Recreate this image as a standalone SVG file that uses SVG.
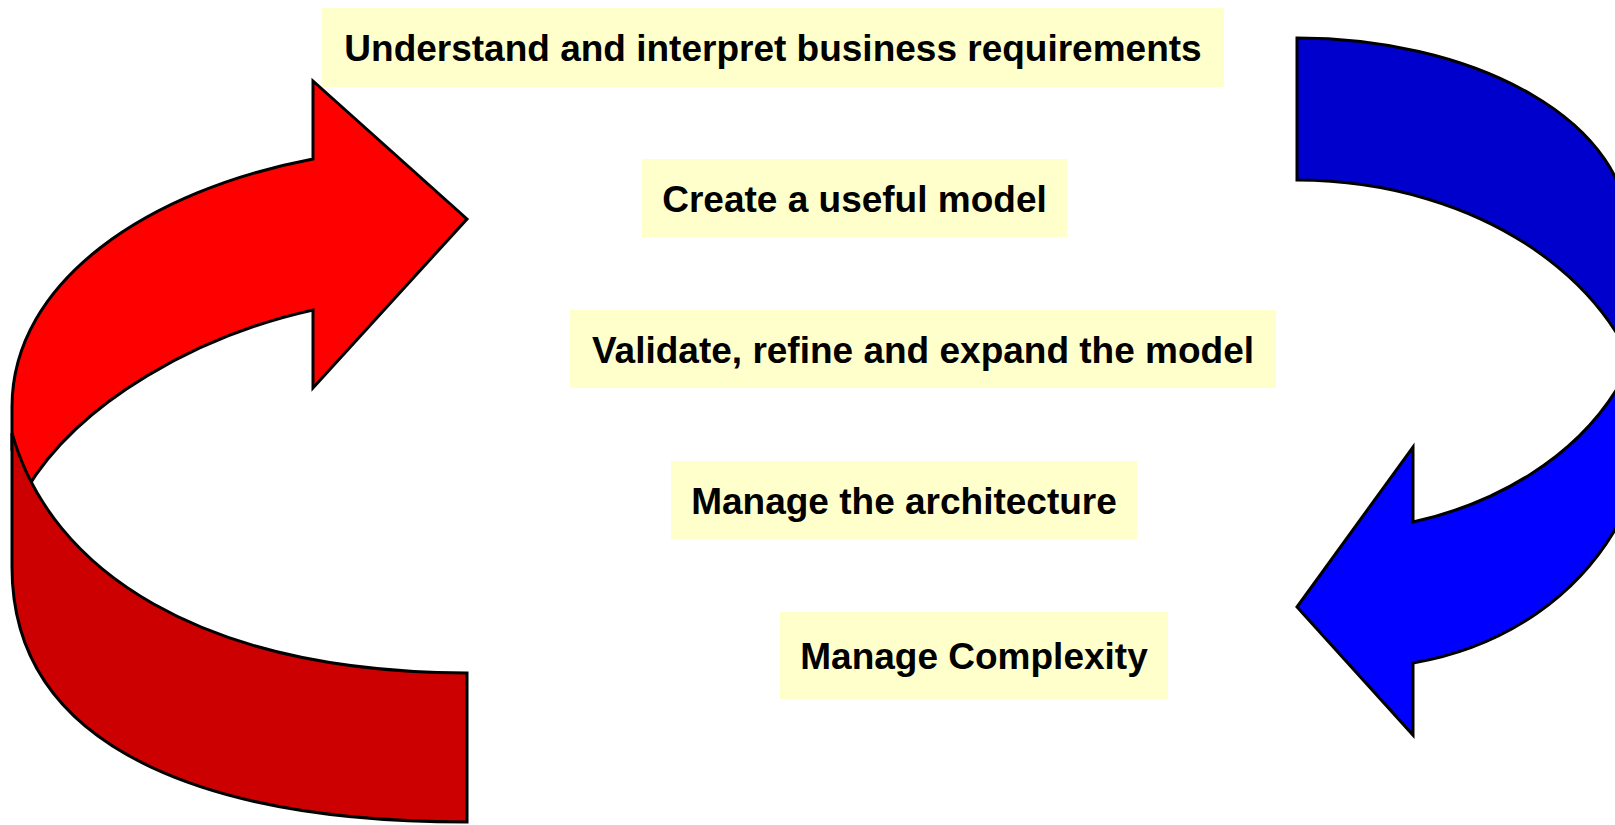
<svg xmlns="http://www.w3.org/2000/svg" width="1615" height="825" viewBox="0 0 1615 825">
  <style>
    .box { fill: #FFFFCC; stroke: none; }
    .label { font-family: "Liberation Sans", Arial, sans-serif; font-weight: bold; font-size: 37px; fill: #000000; text-anchor: middle; }
    .ribbon { stroke: #000000; stroke-width: 3; stroke-linejoin: miter; }
    .red-front { fill: #FF0000; }
    .red-back { fill: #CC0000; }
    .blue-back { fill: #0000CC; }
    .blue-front { fill: #0000FF; }
  </style>
  <rect width="1615" height="825" fill="#FFFFFF"/>

  <g id="connectors">
    <g id="red-arrow">
      <path class="ribbon red-front" d="M313,159 C150,190 12,280 12,407 L12,450 L26,490 C80,400 200,335 313,310 L313,388 L467,219 L313,81 Z"/>
      <path class="ribbon red-back" d="M12,433 C50,570 200,672 467,673 L467,822 C230,822 12,760 12,567 Z"/>
    </g>
    <g id="blue-arrow">
      <path class="ribbon blue-back" d="M1297,38 A331,192 0 0 1 1628,230 L1700,230 L1700,450 L1651.6,450 A354.6,270 0 0 0 1297,180 Z"/>
      <path class="ribbon blue-front" d="M1413,522 C1490,505 1580,460 1625,375 L1700,375 L1700,505 L1628,505 C1585,598 1500,648 1413,663 L1413,735 L1297,607 L1413,447 Z"/>
    </g>
  </g>

  <g id="node-understand">
    <rect class="box" x="322" y="8" width="902" height="79"/>
    <text class="label" x="773" y="60.5">Understand and interpret business requirements</text>
  </g>
  <g id="node-create">
    <rect class="box" x="642" y="159" width="425" height="78"/>
    <text class="label" x="854.5" y="211.5">Create a useful model</text>
  </g>
  <g id="node-validate">
    <rect class="box" x="570" y="310" width="706" height="78"/>
    <text class="label" x="923" y="362.5">Validate, refine and expand the model</text>
  </g>
  <g id="node-architecture">
    <rect class="box" x="671" y="461" width="466" height="78"/>
    <text class="label" x="904" y="513.5">Manage the architecture</text>
  </g>
  <g id="node-complexity">
    <rect class="box" x="780" y="612" width="388" height="87"/>
    <text class="label" x="974" y="669">Manage Complexity</text>
  </g>
</svg>
